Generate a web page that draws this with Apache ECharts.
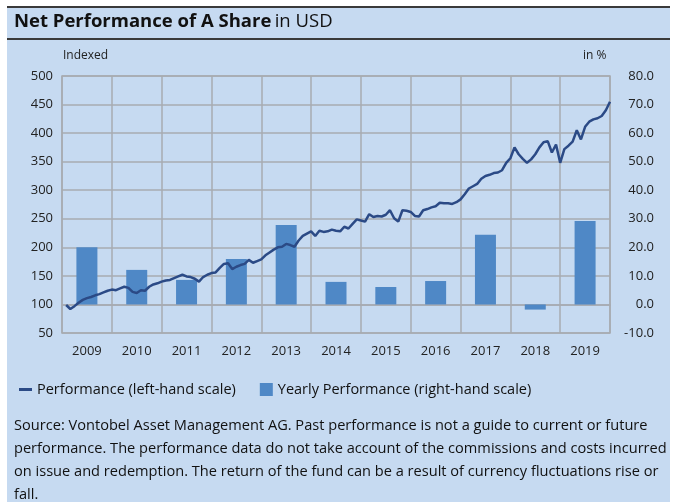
<!DOCTYPE html>
<html><head><meta charset="utf-8">
<script src="https://cdn.jsdelivr.net/npm/echarts@6/dist/echarts.min.js"></script>
<style>html,body{margin:0;padding:0;background:#fff}#c{width:675px;height:502px}</style>
</head><body><div id="c"></div>
<script>
var years = ['2009','2010','2011','2012','2013','2014','2015','2016','2017','2018','2019'];
var yearlyPerf = [20.0, 12.1, 8.6, 15.9, 27.8, 7.9, 6.1, 8.2, 24.4, -1.8, 29.2];
// month-end index values (month 1 = Jan 2009 ... month 132 = Dec 2019)
var performance = [
 99, 92, 97,103,108,111,113,116,118,121,124,126,
125,128,131,129,122,120,125,124,131,135,137,140,
142,143,146,149,152,149,148,145,140,148,152,155,
156,164,171,172,162,166,169,171,178,173,176,179,
186,191,196,200,201,206,204,201,212,220,224,228,
220,229,227,228,231,229,228,236,233,241,249,247,
245,258,253,255,254,257,265,251,245,265,264,262,
255,254,265,267,270,272,278,277,277,276,279,284,
293,303,307,311,320,325,327,330,331,335,348,356,
375,363,355,348,354,363,375,384,386,366,380,348,
372,378,385,405,389,411,420,424,426,430,440,455];
var leftTicks = {min: 50, max: 500, interval: 50};
var rightTicks = {min: -10, max: 80, interval: 10};
var footer = [
 'Source: Vontobel Asset Management AG. Past performance is not a guide to current or future',
 'performance. The performance data do not take account of the commissions and costs incurred',
 'on issue and redemption. The return of the fund can be a result of currency fluctuations rise or',
 'fall.'];

var FONT = 'Open Sans';
var lineData = performance.map(function(v, i){ return [i + 1, v]; });
var chart = echarts.init(document.getElementById('c'), null, {renderer: 'canvas'});
var gridColor = '#a7abb1';
chart.setOption({
  animation: false,
  textStyle: {fontFamily: FONT},
  graphic: [
    {type: 'rect', z: -10, shape: {x: 7, y: 7, width: 663, height: 495}, style: {fill: '#c6daf1'}},
    {type: 'line', shape: {x1: 7, y1: 7, x2: 670, y2: 7}, style: {stroke: '#3a3a3a', lineWidth: 2}},
    {type: 'line', shape: {x1: 7, y1: 39, x2: 670, y2: 39}, style: {stroke: '#3a3a3a', lineWidth: 2}},
    {type: 'text', left: 14, top: 12, style: {text: '{b|Net Performance of A Share} {r|in USD}', rich: {
      b: {fontFamily: FONT, fontWeight: 'bold', fontSize: 18.5, fill: '#111'},
      r: {fontFamily: FONT, fontSize: 18.5, fill: '#111'}}}},
    {type: 'text', left: 63, top: 50, style: {text: 'Indexed', fontFamily: FONT, fontSize: 12, fill: '#222'}},
    {type: 'text', left: 583, top: 50, style: {text: 'in %', fontFamily: FONT, fontSize: 12, fill: '#222'}},
    {type: 'text', left: 14, top: 414, style: {text: footer.join('\n'), fontFamily: FONT, fontSize: 14.6, lineHeight: 23.2, fill: '#111'}}
  ],
  legend: {
    left: 14, top: 377, itemWidth: 13, itemHeight: 13, itemGap: 24,
    textStyle: {fontFamily: FONT, fontSize: 14.5, color: '#111'},
    data: [
      {name: 'Performance (left-hand scale)', icon: 'path://M0,0 H13 V3 H0 Z', itemStyle: {color: '#2b4a86'}},
      {name: 'Yearly Performance (right-hand scale)', icon: 'rect'}
    ]
  },
  grid: {left: 62, right: 65, top: 76, bottom: 169, show: true, borderColor: gridColor, borderWidth: 1.5, backgroundColor: 'transparent'},
  xAxis: [
    {type: 'category', data: years, boundaryGap: true,
     axisLine: {lineStyle: {color: gridColor, width: 1.5}}, axisTick: {show: false},
     axisLabel: {color: '#222', fontSize: 13, margin: 12, fontFamily: FONT},
     splitLine: {show: true, lineStyle: {color: gridColor, width: 1.5}}},
    {type: 'value', min: 0, max: 132, show: false, splitLine: {show: false}}
  ],
  yAxis: [
    {type: 'value', min: leftTicks.min, max: leftTicks.max, interval: leftTicks.interval,
     axisLine: {show: false}, axisTick: {show: false},
     axisLabel: {color: '#222', fontSize: 13, margin: 9, fontFamily: FONT},
     splitLine: {show: true, lineStyle: {color: gridColor, width: 1.5}}},
    {type: 'value', min: rightTicks.min, max: rightTicks.max, interval: rightTicks.interval, position: 'right',
     axisLine: {show: false}, axisTick: {show: false},
     axisLabel: {color: '#222', fontSize: 13, margin: 44, align: 'right', fontFamily: FONT, formatter: function(v){ return v.toFixed(1); }},
     splitLine: {show: false}}
  ],
  series: [
    {name: 'Yearly Performance (right-hand scale)', type: 'bar', xAxisIndex: 0, yAxisIndex: 1,
     data: yearlyPerf, barWidth: 21, itemStyle: {color: '#4f88c6'}, z: 2},
    {name: 'Performance (left-hand scale)', type: 'line', xAxisIndex: 1, yAxisIndex: 0,
     data: lineData, showSymbol: false, symbol: 'none', lineStyle: {color: '#2b4a86', width: 2.5}, itemStyle: {color: '#2b4a86'}, z: 3}
  ]
});
</script></body></html>
